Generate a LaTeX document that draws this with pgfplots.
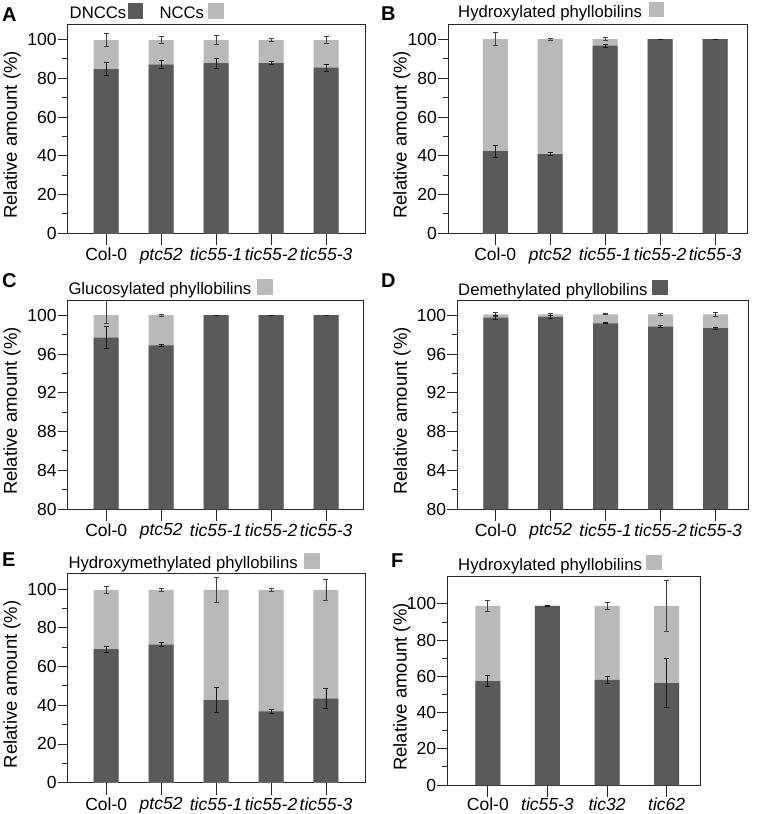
\documentclass[border=0pt]{standalone}
\usepackage{fontspec}
\setmainfont{Liberation Sans}
\usepackage{pgfplots}
\usepackage{pgfplotstable}
\pgfplotsset{compat=1.18}
\definecolor{darkbar}{HTML}{5A5A5A}
\definecolor{lightbar}{HTML}{B9B9B9}
\newcommand\tf{\fontsize{17.5}{20}\selectfont}
\newcommand\lf{\fontsize{18.5}{22}\selectfont}
\newcommand\gf{\fontsize{16.7}{20}\selectfont}

\pgfplotstableread{
x dark derr total terr
0 84.7 3.4 99.7 3.4
1 87.1 1.9 99.7 1.8
2 87.8 2.5 99.7 2.4
3 87.8 0.7 99.7 0.9
4 85.5 1.9 99.7 1.8
}\dataA
\pgfplotstableread{
x dark derr total terr
0 42.4 3.0 100.2 3.3
1 40.8 0.7 100.2 0.6
2 96.8 0.7 100.2 0.9
3 100.2 0.1 100.2 0.1
4 100.2 0.1 100.2 0.1
}\dataB
\pgfplotstableread{
x dark derr total tep tem
0 97.7 1.1 100.0 1.5 0.83
1 96.9 0.08 100.0 0.08 0.08
2 100.0 0.02 100.0 0.02 0.02
3 100.0 0.02 100.0 0.02 0.02
4 100.0 0.02 100.0 0.02 0.02
}\dataC
\pgfplotstableread{
x dark derr total terr
0 99.76 0.2 100.1 0.17
1 99.83 0.15 100.1 0.12
2 99.17 0.05 100.1 0.05
3 98.83 0.07 100.1 0.07
4 98.66 0.12 100.1 0.17
}\dataD
\pgfplotstableread{
x dark derr total terr
0 69.0 1.6 99.5 1.6
1 71.3 0.9 99.5 0.9
2 42.6 6.5 99.5 6.5
3 36.8 0.9 99.5 0.8
4 43.4 5.2 99.5 5.2
}\dataE
\pgfplotstableread{
x dark derr total terr
0 57.3 3.1 98.9 3.2
1 98.9 0.2 98.9 0.0
2 58.0 1.8 98.9 1.8
3 56.2 13.6 98.9 13.9
}\dataF

\pgfplotsset{
  panel/.style={
    scale only axis,
    ybar,
    axis line style={line width=0.9pt, black!85},
    tick style={line width=0.9pt, black!85},
    tick align=outside,
    tick pos=left,
    major tick length=10pt,
    minor tick length=5.5pt,
    xtick style={/pgfplots/major tick length=12pt},
    tick label style={font=\tf},
    /pgf/number format/assume math mode=true,
    yticklabel style={inner sep=1pt},
    xticklabel style={inner sep=1.5pt},
    xticklabel shift=3pt,
    ylabel={Relative amount (\%)},
    xtick={0,...,4},
  },
  darkbars/.style={fill=darkbar, draw=none, bar width=25pt, bar shift=0pt,
    error bars/y dir=both, error bars/y explicit,
    error bars/error bar style={line width=0.8pt, black!90},
    error bars/error mark options={rotate=90, mark size=2.5pt, line width=0.8pt, black!90}},
  lightbars/.style={fill=lightbar, draw=none, bar width=25pt, bar shift=0pt,
    error bars/y dir=both, error bars/y explicit,
    error bars/error bar style={line width=0.8pt, black!75},
    error bars/error mark options={rotate=90, mark size=2.5pt, line width=0.8pt, black!75}},
}
% legend entry: text start x, baseline y, text, square left x, colour
\newcommand\lgd[5]{%
  \node[font=\gf, anchor=base west, inner sep=0pt] at (#1pt,-#2pt) {#3};
  \fill[#5] (#4pt,-#2pt) rectangle ++(15.7pt,15.5pt);}

\begin{document}
\begin{tikzpicture}
\path[use as bounding box] (0,0) rectangle (756pt,-814pt);

% ---------- A ----------
\begin{axis}[panel, at={(67.7pt,-233.3pt)}, anchor=south west,
  width=298pt, height=209.3pt,
  xmin=-0.7, xmax=4.72, ymin=0, ymax=108,
  ytick={0,20,...,100}, minor ytick={10,30,50,70,90},
  xticklabels={Col-0,\textit{ptc52},\textit{tic55-1},\textit{tic55-2},\textit{tic55-3}},
  ylabel style={font=\lf, at={(axis description cs:-0.187,0.47)}, anchor=center}]
\addplot[lightbars] table[x=x, y=total, y error=terr] {\dataA};
\addplot[darkbars] table[x=x, y=dark, y error=derr] {\dataA};
\end{axis}

% ---------- B ----------
\begin{axis}[panel, at={(448pt,-233.3pt)}, anchor=south west,
  width=299pt, height=209.3pt,
  xmin=-0.86, xmax=4.58, ymin=0, ymax=108,
  ytick={0,20,...,100}, minor ytick={10,30,50,70,90},
  xticklabels={Col-0,\textit{ptc52},\textit{tic55-1},\textit{tic55-2},\textit{tic55-3}},
  ylabel style={font=\lf, at={(axis description cs:-0.154,0.47)}, anchor=center}]
\addplot[lightbars] table[x=x, y=total, y error=terr] {\dataB};
\addplot[darkbars] table[x=x, y=dark, y error=derr] {\dataB};
\end{axis}

% ---------- C ----------
\begin{axis}[panel, at={(67.7pt,-509pt)}, anchor=south west,
  width=295.3pt, height=208.3pt,
  xmin=-0.7, xmax=4.67, ymin=80, ymax=101.5,
  ytick={80,84,...,100}, minor ytick={82,86,90,94,98},
  xticklabels={Col-0,\textit{ptc52},\textit{tic55-1},\textit{tic55-2},\textit{tic55-3}},
  ylabel style={font=\lf, at={(axis description cs:-0.188,0.47)}, anchor=center}]
\addplot[lightbars] table[x=x, y=total, y error plus=tep, y error minus=tem] {\dataC};
\addplot[darkbars] table[x=x, y=dark, y error=derr] {\dataC};
\end{axis}

% ---------- D ----------
\begin{axis}[panel, at={(457.3pt,-509pt)}, anchor=south west,
  width=290.7pt, height=208.3pt,
  xmin=-0.7, xmax=4.59, ymin=80, ymax=101.5,
  ytick={80,84,...,100}, minor ytick={82,86,90,94,98},
  xticklabels={Col-0,\textit{ptc52},\textit{tic55-1},\textit{tic55-2},\textit{tic55-3}},
  ylabel style={font=\lf, at={(axis description cs:-0.19,0.47)}, anchor=center}]
\addplot[lightbars] table[x=x, y=total, y error=terr] {\dataD};
\addplot[darkbars] table[x=x, y=dark, y error=derr] {\dataD};
\end{axis}

% ---------- E ----------
\begin{axis}[panel, at={(67.7pt,-782.7pt)}, anchor=south west,
  width=297.3pt, height=209.4pt,
  xmin=-0.7, xmax=4.71, ymin=0, ymax=108.1,
  ytick={0,20,...,100}, minor ytick={10,30,50,70,90},
  xticklabels={Col-0,\textit{ptc52},\textit{tic55-1},\textit{tic55-2},\textit{tic55-3}},
  ylabel style={font=\lf, at={(axis description cs:-0.187,0.47)}, anchor=center}]
\addplot[lightbars] table[x=x, y=total, y error=terr] {\dataE};
\addplot[darkbars] table[x=x, y=dark, y error=derr] {\dataE};
\end{axis}

% ---------- F ----------
\begin{axis}[panel, at={(447.3pt,-785pt)}, anchor=south west,
  width=253.4pt, height=208.3pt,
  xmin=-0.68, xmax=3.57, ymin=0, ymax=115,
  xtick={0,...,3}, xticklabel shift=1pt,
  ytick={0,20,...,100}, minor ytick={10,30,50,70,90},
  xticklabels={Col-0,\textit{tic55-3},\textit{tic32},\textit{tic62}},
  ylabel style={font=\lf, at={(axis description cs:-0.179,0.47)}, anchor=center}]
\addplot[lightbars] table[x=x, y=total, y error=terr] {\dataF};
\addplot[darkbars] table[x=x, y=dark, y error=derr] {\dataF};
\end{axis}

% legends
\lgd{69.5}{18.5}{DNCCs}{127.7}{darkbar}
\lgd{159.3}{18.5}{NCCs}{208.3}{lightbar}
\lgd{458}{17.3}{Hydroxylated phyllobilins}{648.7}{lightbar}
\lgd{68.3}{294.5}{Glucosylated phyllobilins}{257.3}{lightbar}
\lgd{458}{295}{Demethylated phyllobilins}{652}{darkbar}
\lgd{68.3}{568.8}{Hydroxymethylated phyllobilins}{304}{lightbar}
\lgd{458}{570.3}{Hydroxylated phyllobilins}{646.3}{lightbar}

% panel letters
\begin{scope}[every node/.style={font=\bfseries\fontsize{20}{24}\selectfont, anchor=base west, inner sep=0pt}]
\node at (2pt,-21pt) {A};
\node at (381pt,-20pt) {B};
\node at (2pt,-287pt) {C};
\node at (381pt,-287pt) {D};
\node at (2pt,-566pt) {E};
\node at (391pt,-567pt) {F};
\end{scope}
\end{tikzpicture}
\end{document}
